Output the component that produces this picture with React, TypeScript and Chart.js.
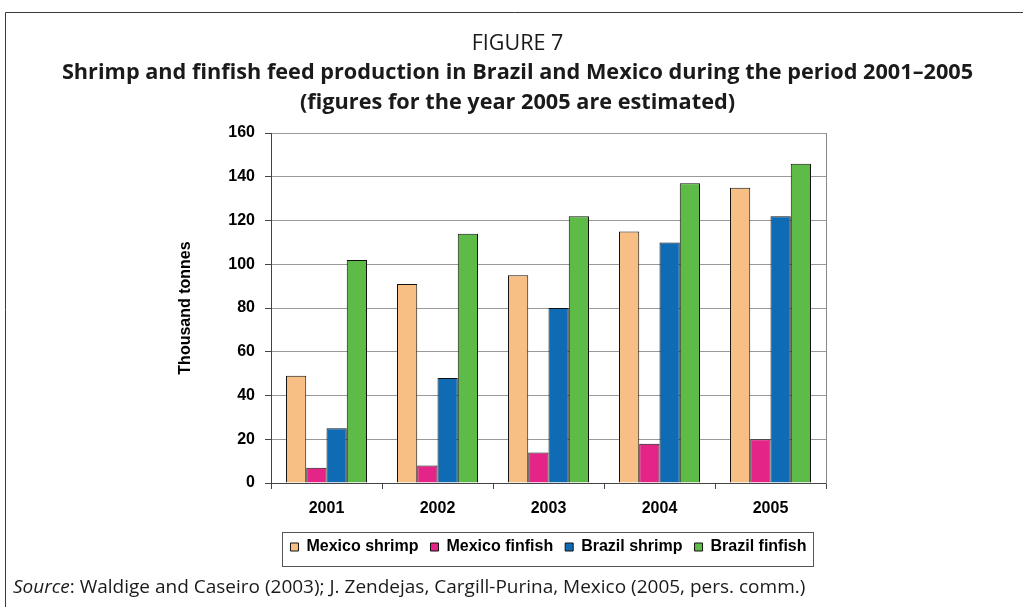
import { useEffect, useRef } from "react";
import { Chart, registerables } from "chart.js";

Chart.register(...registerables);

const years = ["2001", "2002", "2003", "2004", "2005"];
const mexicoShrimp = [49, 91, 95, 115, 135];
const mexicoFinfish = [7, 8, 14, 18, 20];
const brazilShrimp = [25, 48, 80, 110, 122];
const brazilFinfish = [102, 114, 122, 137, 146];
const seriesLabels = ["Mexico shrimp", "Mexico finfish", "Brazil shrimp", "Brazil finfish"];
const seriesColors = ["#F8BF84", "#E52487", "#0F6BB4", "#5FBB47"];
const yMin = 0;
const yMax = 160;
const yStep = 20;
const figureLabel = "FIGURE 7";
const titleLines = [
  "Shrimp and finfish feed production in Brazil and Mexico during the period 2001–2005",
  "(figures for the year 2005 are estimated)",
];
const yAxisTitle = "Thousand tonnes";
const sourceLead = "Source";
const sourceText = ": Waldige and Caseiro (2003); J. Zendejas, Cargill-Purina, Mexico (2005, pers. comm.)";

const ARIAL = "'Liberation Sans', Arial, sans-serif";
const HUMANIST = "'Open Sans', 'Noto Sans', sans-serif";

const framePlugin = {
  id: "frame",
  beforeDraw(chart: any) {
    const { ctx, width, height } = chart;
    ctx.save();
    ctx.fillStyle = "#ffffff";
    ctx.fillRect(0, 0, width, height);
    ctx.strokeStyle = "#3a3a3a";
    ctx.lineWidth = 1;
    ctx.beginPath();
    ctx.moveTo(5.5, height);
    ctx.lineTo(5.5, 12.5);
    ctx.lineTo(width, 12.5);
    ctx.stroke();
    ctx.restore();
  },
  afterDraw(chart: any) {
    const { ctx } = chart;
    const boxes = chart.legend && chart.legend.legendHitBoxes;
    if (boxes && boxes.length) {
      let l = Infinity, r = -Infinity, t = Infinity, b = -Infinity;
      for (const hb of boxes) {
        l = Math.min(l, hb.left);
        r = Math.max(r, hb.left + hb.width);
        t = Math.min(t, hb.top);
        b = Math.max(b, hb.top + hb.height);
      }
      ctx.save();
      ctx.strokeStyle = "#555";
      ctx.lineWidth = 1;
      const x1 = Math.round(l - 8) + 0.5;
      const y1 = Math.round(t - 7) + 0.5;
      const x2 = Math.round(r + 6) + 0.5;
      const y2 = Math.round(b + 11) + 0.5;
      ctx.strokeRect(x1, y1, x2 - x1, y2 - y1);
      ctx.restore();
    }
    ctx.save();
    ctx.fillStyle = "#1a1a1a";
    ctx.textBaseline = "middle";
    ctx.textAlign = "left";
    ctx.font = `italic 19px ${HUMANIST}`;
    const x0 = 13;
    const y0 = 588;
    ctx.fillText(sourceLead, x0, y0);
    const w = ctx.measureText(sourceLead).width;
    ctx.font = `19px ${HUMANIST}`;
    ctx.fillText(sourceText, x0 + w, y0);
    ctx.restore();
  },
};

export default function App() {
  const ref = useRef<HTMLCanvasElement | null>(null);
  useEffect(() => {
    if (!ref.current) return;
    const data = [mexicoShrimp, mexicoFinfish, brazilShrimp, brazilFinfish];
    const chart = new Chart(ref.current, {
      type: "bar",
      data: {
        labels: years,
        datasets: data.map((vals, i) => ({
          label: seriesLabels[i],
          data: vals,
          backgroundColor: seriesColors[i],
          borderColor: "#111",
          borderWidth: 1,
          categoryPercentage: 0.73,
          barPercentage: 1.0,
          yAxisID: "y",
        })),
      },
      options: {
        responsive: false,
        animation: false,
        devicePixelRatio: 1,
        layout: { padding: { left: 20, right: 8, top: 0, bottom: 42 } },
        plugins: {
          tooltip: { enabled: false },
          title: {
            display: true,
            text: figureLabel,
            color: "#1a1a1a",
            font: { family: HUMANIST, size: 21.5, weight: "normal", lineHeight: 1.2 },
            padding: { top: 31, bottom: 0 },
          },
          subtitle: {
            display: true,
            text: titleLines,
            color: "#1a1a1a",
            font: { family: HUMANIST, size: 21.7, weight: "bold", lineHeight: 1.3825 },
            padding: { top: 1.2, bottom: 15 },
          },
          legend: {
            position: "bottom",
            fullSize: false,
            labels: {
              boxWidth: 8,
              boxHeight: 8,
              padding: 12,
              color: "#000",
              font: { family: ARIAL, size: 16, weight: "bold" },
            },
          },
        },
        scales: {
          x: {
            grid: {
              display: true,
              drawOnChartArea: false,
              drawTicks: true,
              tickLength: 6,
              offset: true,
              tickColor: "#444",
            },
            border: { display: true, color: "#444" },
            ticks: {
              color: "#000",
              padding: 10,
              font: { family: ARIAL, size: 16, weight: "bold" },
            },
            afterFit(scale: any) {
              scale.height = 44;
            },
          },
          y: {
            position: "left",
            min: yMin,
            max: yMax,
            ticks: {
              stepSize: yStep,
              color: "#000",
              padding: 10,
              font: { family: ARIAL, size: 16, weight: "bold" },
            },
            grid: {
              color: "#999",
              tickColor: "#444",
              tickLength: 6,
              drawTicks: true,
            },
            border: { display: true, color: "#444" },
            title: {
              display: true,
              text: yAxisTitle,
              color: "#000",
              font: { family: ARIAL, size: 16, weight: "bold" },
              padding: { top: 156, bottom: 0 },
            },
            afterFit(scale: any) {
              scale.width = 251;
            },
          },
          y2: {
            position: "right",
            min: yMin,
            max: yMax,
            grid: { display: false, drawTicks: false },
            ticks: { display: false },
            border: { display: true, color: "#888" },
            afterFit(scale: any) {
              scale.width = 189;
            },
          },
        },
      },
      plugins: [framePlugin],
    } as any);
    return () => chart.destroy();
  }, []);
  return (
    <div style={{ position: "absolute", left: 0, top: 0, width: 1023, height: 607 }}>
      <canvas ref={ref} width={1023} height={607} style={{ display: "block" }} />
    </div>
  );
}
